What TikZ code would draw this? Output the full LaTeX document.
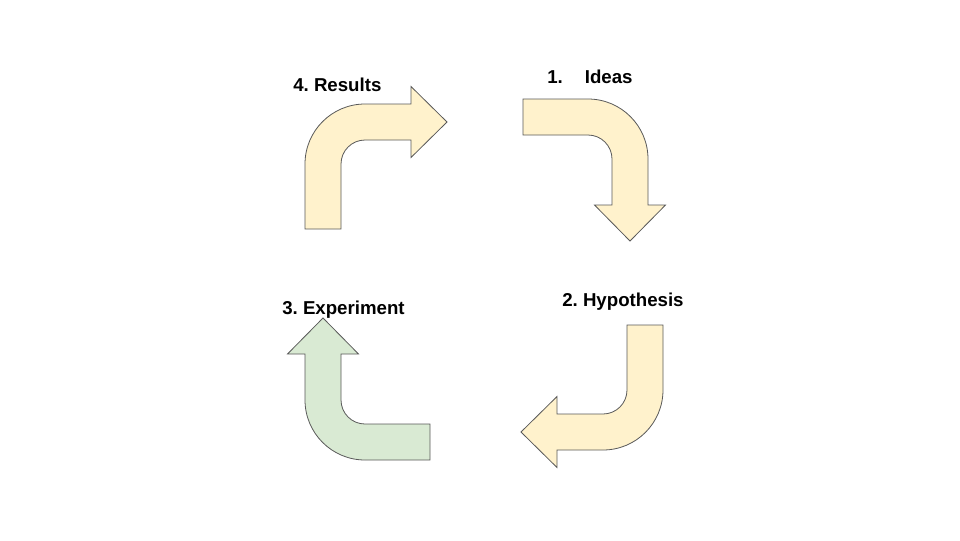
\documentclass[tikz,border=0pt]{standalone}
\usepackage{fontspec}
\setmainfont{Liberation Sans}
\usepackage{xcolor}
\usetikzlibrary{positioning}
\frenchspacing

\definecolor{ideafill}{HTML}{FFF2CC}
\definecolor{expfill}{HTML}{D9EAD3}
\definecolor{edgegray}{HTML}{595959}

\begin{document}
\begin{tikzpicture}[
    x=0.75pt, y=-0.75pt,
    stage/.style={anchor=base west, inner sep=0pt, font=\fontsize{14}{17}\selectfont\bfseries},
    body/.style={draw=edgegray, line width=0.6pt, line join=miter},
    bentarrow/.pic={
        \draw[body, pic actions] (0,125) -- (0,60) .. controls (0,26.9) and (26.9,0) .. (60,0)
            -- (106,0) -- (106,-17.5) -- (142,18) -- (106,53.5) -- (106,36) -- (60,36)
            .. controls (46.75,36) and (36,46.75) .. (36,60) -- (36,125) -- cycle;
    }
]
\fill[white] (0,0) rectangle (960,540);
\useasboundingbox (0,0) rectangle (960,540);

% the four bent arrows, clockwise
\pic[fill=ideafill] (resArrow) at (305,104) {bentarrow};
\pic[fill=ideafill, rotate=-90] (ideaArrow) at (648,99) {bentarrow};
\pic[fill=ideafill, rotate=-180] (hypArrow) at (663,450) {bentarrow};
\pic[fill=expfill, rotate=90] (expArrow) at (305,460) {bentarrow};

% stage labels
\node[stage] (results) at (293,91) {4. Results};
\node[stage] (ideas) at (547,83) {1.\hspace{16.5pt}Ideas};
\node[stage] (hypothesis) at (562,306) {2. Hypothesis};
\node[stage] (experiment) at (282,314) {3. Experiment};
\end{tikzpicture}
\end{document}
